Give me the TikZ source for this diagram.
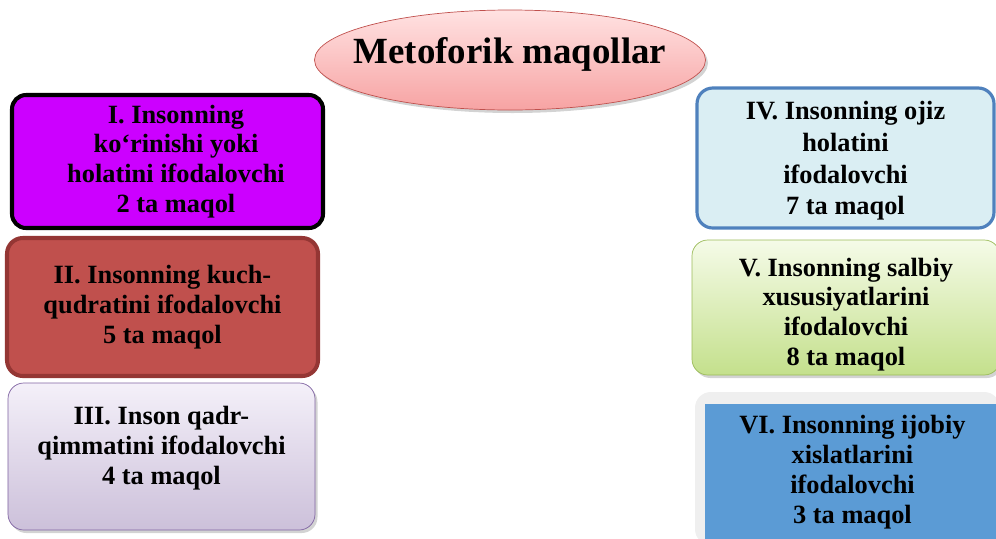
\documentclass[tikz,border=0pt]{standalone}
\usepackage{fontspec}
\setmainfont{Liberation Serif}
\usetikzlibrary{positioning, shapes.geometric, shadows}

\definecolor{titlered}{HTML}{C0504D}
\definecolor{titletop}{HTML}{FFE2E2}
\definecolor{titlebot}{HTML}{F7A3A3}
\definecolor{violet1}{HTML}{CC00FF}
\definecolor{brick}{HTML}{C0504D}
\definecolor{brickdark}{HTML}{943634}
\definecolor{lavtop}{HTML}{F4F0F9}
\definecolor{lavbot}{HTML}{CCC0DA}
\definecolor{lavline}{HTML}{8064A2}
\definecolor{paleblue}{HTML}{DAEEF3}
\definecolor{steel}{HTML}{4F81BD}
\definecolor{limetop}{HTML}{F5FBE8}
\definecolor{limebot}{HTML}{C4E08C}
\definecolor{limeline}{HTML}{9BBB59}
\definecolor{greyback}{HTML}{EFEFEF}
\definecolor{skyblue}{HTML}{5B9BD5}

\begin{document}
\begin{tikzpicture}[semithick,
											maqol/.style={rectangle, align=center, text centered, inner sep=0pt,
											              font=\fontsize{15}{17}\selectfont\bfseries},
											softshadow/.style={drop shadow={opacity=0.35, shadow xshift=0.05cm, shadow yshift=-0.06cm}}]

	  \useasboundingbox (0,0) rectangle (19.92,-10.76);

	  %Title in the middle.
	  \node[ellipse, draw=titlered, thin, top color=titletop, bottom color=titlebot, softshadow,
	        inner sep=0pt, minimum width=7.82cm, minimum height=2cm] (title) at (10.2,-1.2) {};
	  \node[font=\fontsize{21}{24}\selectfont\bfseries] (title-txt) at ([yshift=0.12cm]title.center) {Metoforik maqollar};

	  %Left column.
	  \node[maqol, draw=black, line width=2.3pt, fill=violet1, rounded corners=8pt,
	        minimum width=6.22cm, minimum height=2.66cm] (m1) at (3.35,-3.23) {};
	  \node[maqol] (m1-txt) at ([xshift=0.17cm]m1.center)
	        {I. Insonning\\ko‘rinishi yoki\\holatini ifodalovchi\\2 ta maqol};
	  \node[maqol, draw=brickdark, line width=2.3pt, fill=brick, rounded corners=9pt,
	        minimum width=6.22cm, minimum height=2.76cm]
	        (m2) at (3.25,-6.14) {II. Insonning kuch-\\qudratini ifodalovchi\\5 ta maqol};
	  \node[maqol, draw=lavline, thin, top color=lavtop, bottom color=lavbot, rounded corners=9pt, softshadow,
	        minimum width=6.14cm, minimum height=2.94cm]
	        (m3) at (3.23,-9.13) {};
	  \node[maqol] (m3-txt) at ([yshift=0.16cm]m3.center) {III. Inson qadr-\\qimmatini ifodalovchi\\4 ta maqol};

	  %Right column.
	  \node[maqol, draw=steel, line width=1.8pt, fill=paleblue, rounded corners=9pt,
	        minimum width=5.94cm, minimum height=2.8cm] (m4) at (16.91,-3.16) {};
	  \node[maqol, font=\fontsize{15}{18}\selectfont\bfseries] (m4-txt) at ([yshift=-0.06cm]m4.center)
	        {IV. Insonning ojiz\\holatini\\ifodalovchi\\7 ta maqol};
	  \node[maqol, draw=limeline, thin, top color=limetop, bottom color=limebot, rounded corners=9pt, softshadow,
	        minimum width=6.16cm, minimum height=2.7cm] (m5) at (16.92,-6.15) {};
	  \node[maqol] (m5-txt) at ([yshift=-0.14cm]m5.center)
	        {V. Insonning salbiy\\xususiyatlarini\\ifodalovchi\\8 ta maqol};
	  \node[maqol, fill=greyback, rounded corners=9pt, minimum width=6.1cm, minimum height=3.06cm]
	        (m6-back) at (16.95,-9.37) {};
	  \node[maqol, fill=skyblue, minimum width=5.9cm, minimum height=2.72cm]
	        (m6) at (17.05,-9.44) {VI. Insonning ijobiy\\xislatlarini\\ifodalovchi\\3 ta maqol};

\end{tikzpicture}
\end{document}
